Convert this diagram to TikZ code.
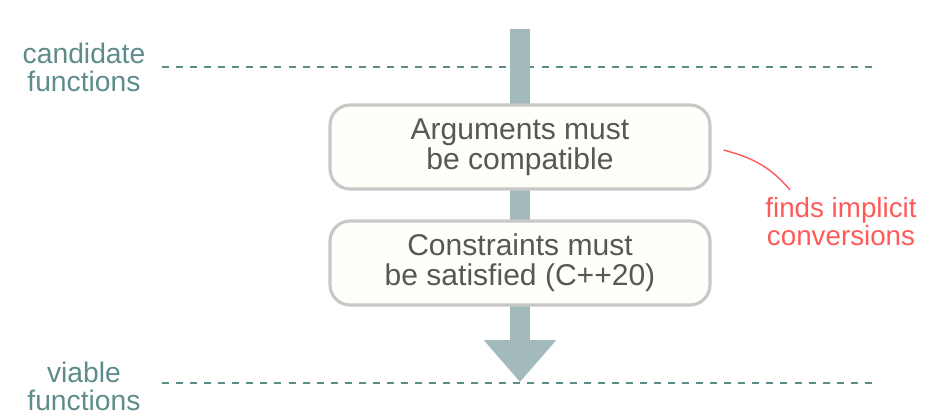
\documentclass[tikz,border=0pt]{standalone}
\usepackage{fontspec}
\setmainfont{Liberation Sans}
\usetikzlibrary{arrows.meta}
\definecolor{flowgray}{HTML}{A2BBBA}
\definecolor{levelteal}{HTML}{5E8C8B}
\definecolor{boxborder}{HTML}{C8C8C8}
\definecolor{boxfill}{HTML}{FFFEF8}
\definecolor{boxtext}{HTML}{575757}
\definecolor{notered}{HTML}{FF5A5A}

\tikzset{
  stage/.style={draw=boxborder, line width=1.8pt, fill=boxfill, rounded corners=0.4cm,
    minimum width=7.6cm, minimum height=1.68cm, align=center, text=boxtext,
    font=\fontsize{17.1}{17}\selectfont},
  level/.style={align=center, text=levelteal, font=\fontsize{16.1}{15.9}\selectfont},
  notetext/.style={align=center, text=notered, font=\fontsize{15.8}{15.9}\selectfont},
  cutoff/.style={levelteal, line width=1.1pt, dash pattern=on 4pt off 4pt},
  flow/.style={flowgray, line width=0.4cm, -{Triangle[width=1.4cm,length=0.84cm]}},
  note/.style={notered, line width=0.8pt}
}

\begin{document}
\begin{tikzpicture}[x=0.02cm,y=-0.02cm]
    \useasboundingbox (0,0) rectangle (944,416);
    % levels
    \node[level] (cand) at (84,67) {candidate\\functions};
    \node[level] (viab) at (84,386) {viable\\functions};
    \coordinate (candL) at (162,67);
    \coordinate (candR) at (872,67);
    \coordinate (viabL) at (162,383);
    \coordinate (viabR) at (872,383);
    \draw[cutoff] (candL) -- (candR);
    \draw[cutoff] (viabL) -- (viabR);
    % flow arrow
    \coordinate (start) at (520,29);
    \coordinate (stop) at (520,382);
    \draw[flow] (start) -- (stop);
    % checks
    \node[stage] (args) at (520,147) {Arguments must\\be compatible};
    \node[stage] (cons) at (520,263) {Constraints must\\be satisfied (C++20)};
    % remark
    \node[notetext] (conv) at (841,222) {finds implicit\\conversions};
    \coordinate (convtip) at (790,190);
    \draw[note] ([xshift=0.24cm,yshift=-0.06cm]args.east) to[out=-15,in=130] (convtip);
\end{tikzpicture}
\end{document}
